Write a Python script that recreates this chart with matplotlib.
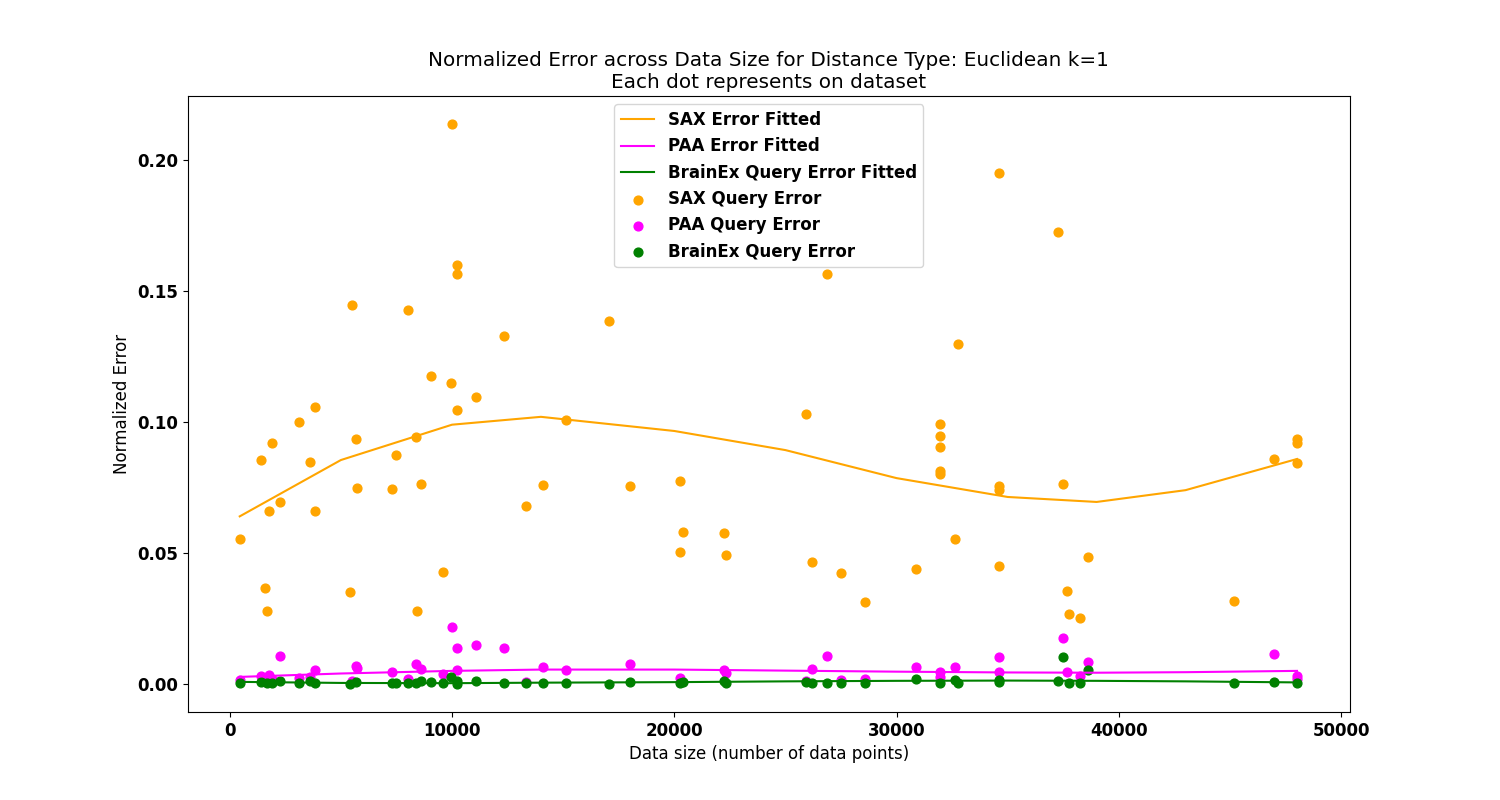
import numpy as np
import matplotlib.pyplot as plt

plt.rcParams["font.size"] = 12

# SAX query error per dataset (data size, error)
sax_x = [450, 1400, 1575, 1665, 1755, 1890, 2250, 3100, 3600, 3825, 3825, 5400, 5490, 5670, 5715,
         7290, 7470, 8010, 8370, 8415, 8595, 9045, 9585, 9945, 9990, 10215, 10215, 10215, 11070,
         12330, 13320, 14085, 15120, 17055, 18000, 20250, 20250, 20385, 22230, 22320, 25920,
         26190, 26865, 27495, 28575, 30870, 31950, 31950, 31950, 31950, 31950, 32625, 32760,
         34605, 34605, 34605, 34605, 37260, 37485, 37665, 37755, 38250, 38610, 45180, 46980,
         48015, 48015, 48015]
sax_y = [0.0553, 0.0855, 0.0366, 0.0279, 0.066, 0.092, 0.0695, 0.100, 0.0847, 0.1057, 0.066,
         0.0351, 0.1447, 0.0935, 0.0748, 0.0744, 0.0874, 0.1427, 0.0943, 0.0279, 0.0763, 0.1176,
         0.0427, 0.1149, 0.2137, 0.1599, 0.1565, 0.1046, 0.1095, 0.1328, 0.0679, 0.0760, 0.1008,
         0.1385, 0.0756, 0.0775, 0.0504, 0.058, 0.0576, 0.0492, 0.1030, 0.0466, 0.1565, 0.0424,
         0.0313, 0.0439, 0.0992, 0.0947, 0.0905, 0.0813, 0.0802, 0.0553, 0.1298, 0.1950, 0.0756,
         0.074, 0.045, 0.1725, 0.0763, 0.0355, 0.0267, 0.0252, 0.0485, 0.0317, 0.0859, 0.0935,
         0.092, 0.0844]

# PAA query error
paa_x = [450, 1400, 1755, 1890, 2250, 3100, 3600, 3825, 5490, 5670, 5715, 7290, 8010, 8370,
         8595, 9585, 9990, 10215, 10215, 11070, 12330, 13320, 14085, 15120, 18000, 20250,
         22230, 22320, 25920, 26190, 26865, 27495, 28575, 30870, 31950, 31950, 32625, 34605,
         34605, 37485, 37665, 38250, 38610, 46980, 48015, 48015]
paa_y = [0.0015, 0.003, 0.0034, 0.0018, 0.0107, 0.0022, 0.0027, 0.0053, 0.0012, 0.0069, 0.0061,
         0.0046, 0.0019, 0.0076, 0.0057, 0.0038, 0.0218, 0.0137, 0.0053, 0.0149, 0.0137, 0.0008,
         0.0065, 0.0053, 0.0076, 0.0023, 0.0053, 0.0042, 0.0011, 0.0057, 0.0107, 0.0015, 0.0019,
         0.0065, 0.0046, 0.0027, 0.0065, 0.0103, 0.0046, 0.0176, 0.0046, 0.0030, 0.0084, 0.0115,
         0.0030, 0.0019]

# BrainEx query error
bx_x = [450, 1400, 1665, 1890, 2250, 3100, 3600, 3825, 5400, 5670, 7290, 7470, 8010, 8370,
        8595, 9045, 9585, 9945, 10215, 10215, 11070, 12330, 13320, 14085, 15120, 17055, 18000,
        20250, 20385, 22230, 22320, 25920, 26190, 26865, 27495, 28575, 30870, 31950, 32625,
        32760, 34605, 34605, 37260, 37485, 37755, 38250, 38610, 45180, 46980, 48015]
bx_y = [0.0002, 0.0006, 0.0003, 0.0004, 0.0012, 0.0005, 0.0010, 0.0002, 0.0001, 0.0009, 0.0004,
        0.0002, 0.0002, 0.0003, 0.0013, 0.0006, 0.0005, 0.0025, 0.0001, 0.0011, 0.0012, 0.0004,
        0.0002, 0.0002, 0.0002, 0.0001, 0.0008, 0.0004, 0.0008, 0.0011, 0.0005, 0.0008, 0.0004,
        0.0002, 0.0002, 0.0002, 0.0018, 0.0002, 0.0015, 0.0002, 0.0015, 0.0006, 0.0010, 0.0103,
        0.0005, 0.0002, 0.0053, 0.0002, 0.0007, 0.0002]

# fitted curves
fit_x = [450, 5000, 10000, 14000, 20000, 25000, 30000, 35000, 39000, 43000, 48015]
sax_fit = [0.064, 0.0855, 0.099, 0.102, 0.0966, 0.0893, 0.0786, 0.0714, 0.0695, 0.074, 0.0859]
paa_fit = [0.0027, 0.0040, 0.0050, 0.0055, 0.0055, 0.0051, 0.0047, 0.0044, 0.0043, 0.0045, 0.0050]
bx_fit = [0.0008, 0.0004, 0.0003, 0.0005, 0.0007, 0.0010, 0.0012, 0.0013, 0.0012, 0.0010, 0.0006]

fig, ax = plt.subplots(figsize=(15, 8), dpi=100)
fig.subplots_adjust(left=0.125, right=0.9, top=0.88, bottom=0.11)

ax.plot(fit_x, sax_fit, color="orange", label="SAX Error Fitted")
ax.plot(fit_x, paa_fit, color="magenta", label="PAA Error Fitted")
ax.plot(fit_x, bx_fit, color="green", label="BrainEx Query Error Fitted")
ax.scatter(sax_x, sax_y, color="orange", s=40, label="SAX Query Error")
ax.scatter(paa_x, paa_y, color="magenta", s=40, label="PAA Query Error")
ax.scatter(bx_x, bx_y, color="green", s=40, label="BrainEx Query Error")

ax.set_xlim(-1900, 50400)
ax.set_ylim(-0.0107, 0.2245)
ax.set_yticks([0.0, 0.05, 0.10, 0.15, 0.20])
ax.set_xlabel("Data size (number of data points)")
ax.set_ylabel("Normalized Error")
ax.set_title("Normalized Error across Data Size for Distance Type: Euclidean k=1\n"
             "Each dot represents on dataset")
for lab in ax.get_xticklabels() + ax.get_yticklabels():
    lab.set_fontweight("bold")
ax.legend(loc="upper center", prop={"weight": "bold"})

fig.savefig("out.png")
